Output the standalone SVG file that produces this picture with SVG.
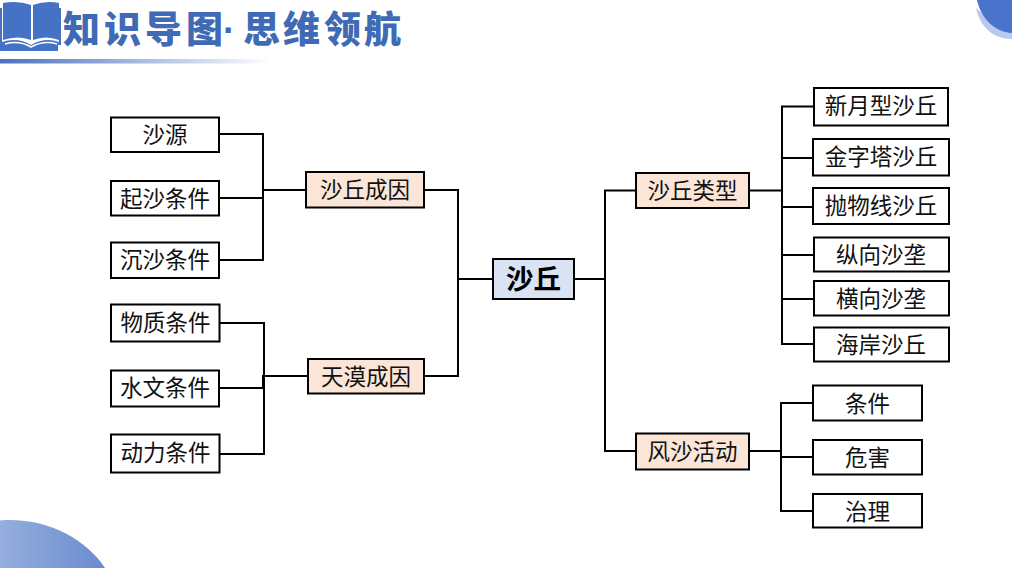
<svg xmlns="http://www.w3.org/2000/svg" width="1012" height="568" viewBox="0 0 1012 568">
<style>
.b{fill:#fff;stroke:#000;stroke-width:2}
.m{fill:#fbe5d6;stroke:#000;stroke-width:2}
.c{fill:#dae3f3;stroke:#000;stroke-width:2}
.t{font-family:"Noto Sans CJK SC","Liberation Sans",sans-serif;font-size:22.500px;fill:#111;text-anchor:middle}
.h{font-family:"Noto Sans CJK SC","Liberation Sans",sans-serif;font-size:37px;font-weight:900;fill:#3f6ab5}
.d{font-family:"Liberation Sans",sans-serif;font-weight:700}
#connectors path{fill:none;stroke:#000;stroke-width:2}
</style>
<defs>
<linearGradient id="bar" x1="0" x2="1" y1="0" y2="0"><stop offset="0" stop-color="#4a72c0"/><stop offset="1" stop-color="#4a72c0" stop-opacity="0"/></linearGradient>
<linearGradient id="corner" x1="0" x2="1" y1="0" y2="0"><stop offset="0" stop-color="#95aede"/><stop offset="1" stop-color="#6a8bcf"/></linearGradient>
</defs>
<rect width="1012" height="568" fill="#fff"/>
<g id="decor">
<path d="M976 8C980 26 992 39 1012 39V20H990Z" fill="#b9c8ec"/>
<path d="M977 0C981 18 994 32 1012 33V0Z" fill="#4a74cc"/>
<path d="M0 568V520.500C45 517 85 538 105 568Z" fill="url(#corner)"/>
<rect x="0" y="59" width="272" height="4.500" fill="url(#bar)"/>
</g>
<g id="book">
<path d="M3 3Q18 0 31 5V40Q18 35 3 40Z" fill="#4472c4"/>
<path d="M33 5Q46 0 59 3V40Q46 35 33 40Z" fill="#4472c4"/>
<path d="M0 8H2V42Q18 37 31 45Q45 37 59 42V8H61V45H58V51H0Z" fill="#4472c4"/>
<path d="M5 44Q19 40 31 47Q44 40 57 44" fill="none" stroke="#fff" stroke-width="1.500"/>
</g>
<text id="title" class="h" x="63 104 145 186" y="43">知识导图<tspan class="d" x="223">·</tspan><tspan x="243 283 324 364">思维领航</tspan></text>
<g id="connectors">
<path d="M219 134H263V260H219M219 198H263M262 190H306"/>
<path d="M220 323H264V454H220M219 388H264M263 388V376H308"/>
<path d="M424 190H458V376H424M458 279H493"/>
<path d="M574 279H605M635 190.500H605V451H635"/>
<path d="M749 190.500H782M813 106.500H782V207H813M813 158H782M782 158V344H813M782 255H813M782 299H813"/>
<path d="M749 451H781M813 403H781V511H813M781 457H813"/>
</g>
<g id="n1"><rect class="b" x="111" y="117.500" width="108" height="34.500"/><text class="t" x="165" y="142.500">沙源</text></g>
<g id="n2"><rect class="b" x="111" y="181" width="108" height="34.500"/><text class="t" x="165" y="206.500">起沙条件</text></g>
<g id="n3"><rect class="b" x="111" y="242.500" width="108" height="35.500"/><text class="t" x="165" y="267.500">沉沙条件</text></g>
<g id="n4"><rect class="b" x="111" y="304.500" width="108.500" height="37"/><text class="t" x="165.500" y="330.500">物质条件</text></g>
<g id="n5"><rect class="b" x="111" y="370.500" width="108" height="36"/><text class="t" x="165" y="396">水文条件</text></g>
<g id="n6"><rect class="b" x="111" y="434.500" width="108.500" height="38"/><text class="t" x="165.500" y="461">动力条件</text></g>
<g id="m1"><rect class="m" x="306" y="172" width="118" height="35.500"/><text class="t" x="365" y="198">沙丘成因</text></g>
<g id="m2"><rect class="m" x="308" y="359" width="116" height="34.500"/><text class="t" x="366" y="385">天漠成因</text></g>
<g id="center"><rect class="c" x="493" y="259" width="81" height="40"/><text class="t" x="533.500" y="289" style="font-size:27.500px;font-weight:700;fill:#000">沙丘</text></g>
<g id="m3"><rect class="m" x="636" y="173" width="113" height="35"/><text class="t" x="692.500" y="198.500">沙丘类型</text></g>
<g id="m4"><rect class="m" x="636" y="433.500" width="113" height="36"/><text class="t" x="692.500" y="459.500">风沙活动</text></g>
<g id="r1"><rect class="b" x="814" y="88" width="134" height="37.500"/><text class="t" x="881" y="114">新月型沙丘</text></g>
<g id="r2"><rect class="b" x="813" y="139" width="136" height="36.500"/><text class="t" x="881" y="165">金字塔沙丘</text></g>
<g id="r3"><rect class="b" x="813" y="188" width="136" height="36"/><text class="t" x="881" y="214">抛物线沙丘</text></g>
<g id="r4"><rect class="b" x="814" y="237.500" width="135" height="34"/><text class="t" x="881" y="263">纵向沙垄</text></g>
<g id="r5"><rect class="b" x="814" y="281" width="135" height="34.500"/><text class="t" x="881" y="306.500">横向沙垄</text></g>
<g id="r6"><rect class="b" x="814" y="327.500" width="135" height="34"/><text class="t" x="881" y="353">海岸沙丘</text></g>
<g id="s1"><rect class="b" x="813" y="385.500" width="109" height="35"/><text class="t" x="867.500" y="411.500">条件</text></g>
<g id="s2"><rect class="b" x="813" y="440" width="109" height="34.500"/><text class="t" x="867.500" y="466">危害</text></g>
<g id="s3"><rect class="b" x="813" y="494" width="109" height="33.500"/><text class="t" x="867.500" y="520">治理</text></g>
</svg>
